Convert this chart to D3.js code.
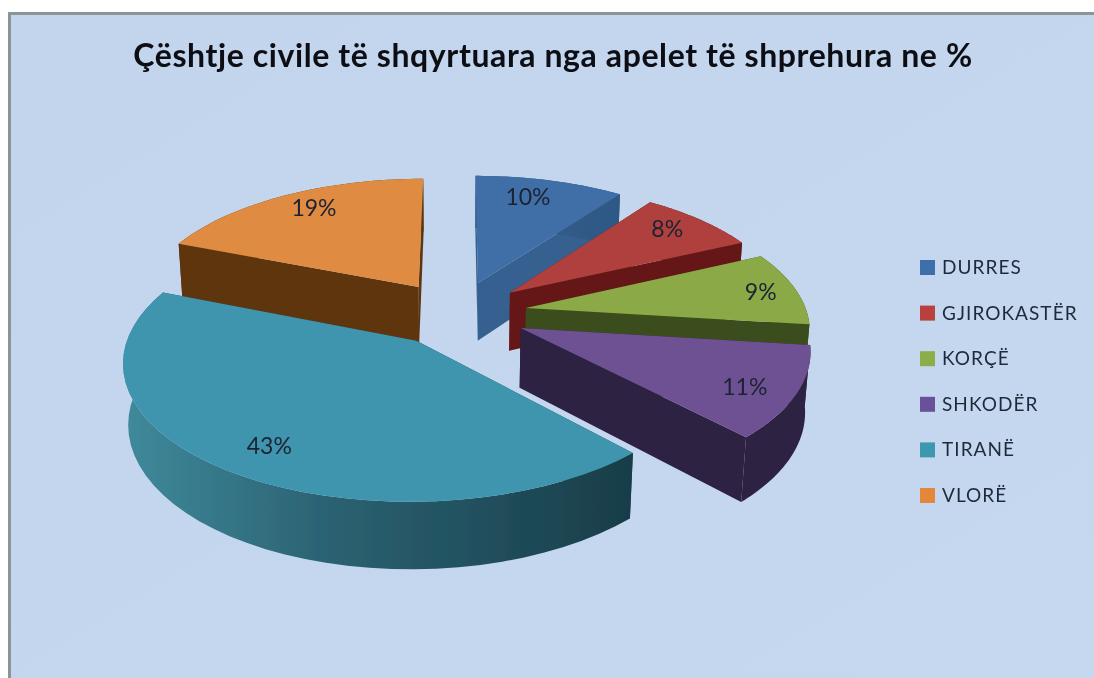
<!DOCTYPE html>
<html>
<head>
<meta charset="utf-8">
<script src="https://cdn.jsdelivr.net/npm/d3@7"></script>
<style>
  html, body { margin: 0; padding: 0; background: #fff; }
  svg { display: block; }
</style>
</head>
<body>
<div id="renderDiv"></div>
<script>
const titleText = "Çështje civile të shqyrtuara nga apelet të shprehura ne %";
const categories = ["DURRES", "GJIROKASTËR", "KORÇË", "SHKODËR", "TIRANË", "VLORË"];
const values = [10, 8, 9, 11, 43, 19];

const topColors = ["#3f6ea6", "#b0403d", "#8baa47", "#6e5192", "#4195ae", "#e08b42"];
const wallColors = ["#34608f", "#651816", "#3b4e1c", "#2e2142", "#1f4a58", "#5e3611"];
const rimLeft = ["#34608f", "#651816", "#3b4e1c", "#2e2142", "#3f8a9c", "#5e3611"];
const rimMid = ["#315c8a", "#651816", "#3b4e1c", "#2e2142", "#2b6272", "#5e3611"];
const rimRight = ["#2f5885", "#651816", "#3b4e1c", "#2e2142", "#183d48", "#5e3611"];
const legendColors = ["#3c70ab", "#b8403d", "#8cae48", "#6a4f9a", "#3c98ae", "#e4873a"];

// label distance from slice tip, in pie radii, then a nudge in px
const labelRadius = [0.74, 0.88, 0.86, 0.79, 0.77, 0.89];
const labelNudgeX = [-5, -12, 3, 9, -5, 16];
const labelNudgeY = [-8, 1, 1, 8, 9, 3];

const SVGWIDTH = 1094, SVGHEIGHT = 678;
const cx = 457, cy = 313, rx = 281, ry = 130, pinch = 0.14, depth = 60;
const explode = 0.25;

// ground plane -> screen, z = 1 is the underside of the pie
function project(X, Y, z) {
    let w = 1 + pinch * Y + 0.015 * z;
    return [cx + rx * X / w, cy - ry * Y / w + depth * z / w];
}

let svg = d3.select("#renderDiv").append("svg")
    .attr("width", SVGWIDTH).attr("height", SVGHEIGHT);

let defs = svg.append("defs");
defs.append("filter").attr("id", "soft")
    .append("feGaussianBlur").attr("stdDeviation", 0.7);
defs.append("filter").attr("id", "softText")
    .append("feGaussianBlur").attr("stdDeviation", 0.45);

let bg = defs.append("linearGradient").attr("id", "bg")
    .attr("x1", 0).attr("y1", 0).attr("x2", 1).attr("y2", 1);
bg.append("stop").attr("offset", 0).attr("stop-color", "#c2d5ed");
bg.append("stop").attr("offset", 1).attr("stop-color", "#c5d8ef");

svg.append("rect").attr("x", 8).attr("y", 12)
    .attr("width", SVGWIDTH - 8).attr("height", SVGHEIGHT - 12)
    .attr("fill", "#8c9496");
svg.append("rect").attr("x", 11).attr("y", 15)
    .attr("width", SVGWIDTH - 11).attr("height", SVGHEIGHT - 15)
    .attr("fill", "url(#bg)");

let pie = d3.pie().sort(null).value(d => d)(values);
let line = d3.line();

let chart = svg.append("g").attr("filter", "url(#soft)");

// back to front: VLORË first, TIRANË last
let drawOrder = [5, 0, 1, 2, 3, 4];

for (let i of drawOrder) {
    let d = pie[i];
    let mid = (d.startAngle + d.endAngle) / 2;
    let ox = explode * Math.sin(mid), oy = explode * Math.cos(mid);
    let edge = d3.range(0, 41).map(k => d.startAngle + (d.endAngle - d.startAngle) * k / 40);
    let outer = edge.map(a => [ox + Math.sin(a), oy + Math.cos(a)]);
    let tip = [ox, oy];
    let g = chart.append("g").attr("class", "slice").attr("id", "slice_" + i);

    let first = outer[0], last = outer[outer.length - 1];
    for (let p of [first, last]) {
        g.append("path")
            .attr("d", line([project(tip[0], tip[1], 0), project(p[0], p[1], 0),
                project(p[0], p[1], 1), project(tip[0], tip[1], 1)]) + "Z")
            .attr("fill", wallColors[i]);
    }

    let xs = outer.map(p => project(p[0], p[1], 0)[0]);
    let grad = defs.append("linearGradient").attr("id", "rim_" + i)
        .attr("gradientUnits", "userSpaceOnUse")
        .attr("x1", d3.min(xs)).attr("y1", 0).attr("x2", d3.max(xs)).attr("y2", 0);
    grad.append("stop").attr("offset", 0).attr("stop-color", rimLeft[i]);
    grad.append("stop").attr("offset", 0.4).attr("stop-color", rimMid[i]);
    grad.append("stop").attr("offset", 1).attr("stop-color", rimRight[i]);

    let rimTop = outer.map(p => project(p[0], p[1], 0));
    let rimBottom = outer.map(p => project(p[0], p[1], 1)).reverse();
    g.append("path").attr("d", line(rimTop.concat(rimBottom)) + "Z")
        .attr("fill", "url(#rim_" + i + ")");

    let face = [project(tip[0], tip[1], 0)].concat(rimTop);
    g.append("path").attr("d", line(face) + "Z").attr("fill", topColors[i]);
}

let labels = svg.append("g").attr("font-family", "Lato, 'Open Sans', sans-serif")
    .attr("font-size", 23).attr("fill", "#1b2432").attr("filter", "url(#softText)");
pie.forEach((d, i) => {
    let mid = (d.startAngle + d.endAngle) / 2;
    let r = labelRadius[i] + explode;
    let p = project(r * Math.sin(mid), r * Math.cos(mid), 0);
    labels.append("text").attr("x", p[0] + labelNudgeX[i]).attr("y", p[1] + labelNudgeY[i] + 8)
        .attr("text-anchor", "middle").text(d.value + "%");
});

svg.append("text").attr("x", 553).attr("y", 67)
    .attr("text-anchor", "middle")
    .attr("font-family", "Lato, 'Open Sans', sans-serif")
    .attr("font-weight", 700).attr("font-size", 32).attr("letter-spacing", 0.6)
    .attr("fill", "#0d0d12").attr("filter", "url(#softText)").text(titleText);

let legendY = d3.scalePoint().domain(categories).range([267, 495]);
let legend = svg.append("g").attr("font-family", "Lato, 'Open Sans', sans-serif")
    .attr("font-size", 19).attr("letter-spacing", 1.05).attr("fill", "#1f2a3a")
    .attr("filter", "url(#softText)");
categories.forEach((c, i) => {
    let y = legendY(c);
    legend.append("rect").attr("x", 920).attr("y", y - 7)
        .attr("width", 15).attr("height", 15).attr("fill", legendColors[i]);
    legend.append("text").attr("x", 942).attr("y", y + 7).text(c);
});
</script>
</body>
</html>
